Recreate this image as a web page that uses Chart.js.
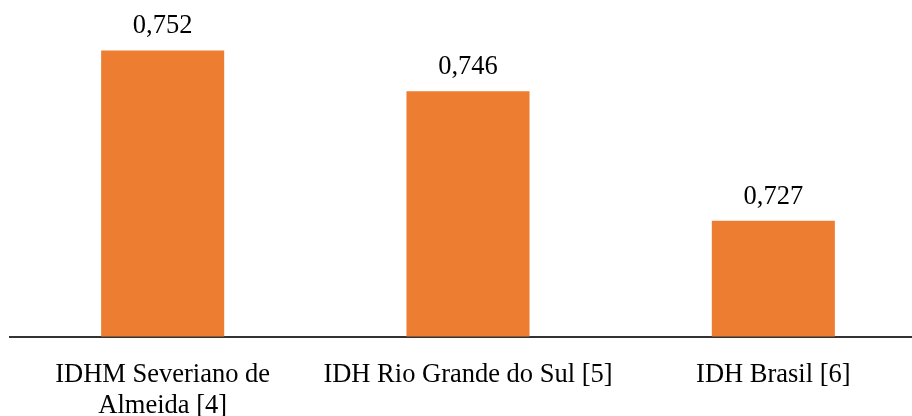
<!DOCTYPE html>
<html lang="pt-BR">
<head>
    <meta charset="UTF-8">
    <title>IDH</title>
    <script src="https://cdn.jsdelivr.net/npm/chart.js"></script>
    <style>
        body { margin: 0; overflow: hidden; background: #fff; }
        #wrap { position: absolute; left: 0; top: -4px; }
    </style>
</head>
<body>
    <div id="wrap">
        <canvas id="idhChart" width="926" height="420"></canvas>
    </div>

    <script>
        // dados
        const categories = [['IDHM Severiano de', 'Almeida [4]'], 'IDH Rio Grande do Sul [5]', 'IDH Brasil [6]'];
        const values = [0.752, 0.746, 0.727];

        const fontName = "'Liberation Serif', serif";

        // rótulos acima das barras
        const valueLabels = {
            id: 'valueLabels',
            afterDatasetsDraw(chart) {
                const ctx = chart.ctx;
                const meta = chart.getDatasetMeta(0);
                ctx.save();
                ctx.font = '26.5px ' + fontName;
                ctx.fillStyle = '#000';
                ctx.textAlign = 'center';
                ctx.textBaseline = 'alphabetic';
                meta.data.forEach((bar, i) => {
                    const txt = values[i].toFixed(3).replace('.', ',');
                    ctx.fillText(txt, bar.x, bar.y - 17);
                });
                ctx.restore();
            }
        };

        new Chart(document.getElementById('idhChart'), {
            type: 'bar',
            data: {
                labels: categories,
                datasets: [{
                    data: values,
                    backgroundColor: '#ED7D31',
                    barPercentage: 0.403,
                    categoryPercentage: 1
                }]
            },
            options: {
                responsive: false,
                animation: false,
                layout: { padding: { left: 10, right: 0, top: 0, bottom: 0 } },
                plugins: {
                    legend: { display: false },
                    tooltip: { enabled: false }
                },
                scales: {
                    x: {
                        grid: { display: false },
                        border: { display: true, color: '#333333', width: 2 },
                        ticks: {
                            color: '#000',
                            padding: 15,
                            maxRotation: 0,
                            autoSkip: false,
                            font: { family: fontName, size: 26.5, lineHeight: 1.17 }
                        },
                        afterFit(scale) { scale.height = 79.5; }
                    },
                    y: {
                        display: false,
                        min: 0.71,
                        max: 0.76
                    }
                }
            },
            plugins: [valueLabels]
        });
    </script>
</body>
</html>
